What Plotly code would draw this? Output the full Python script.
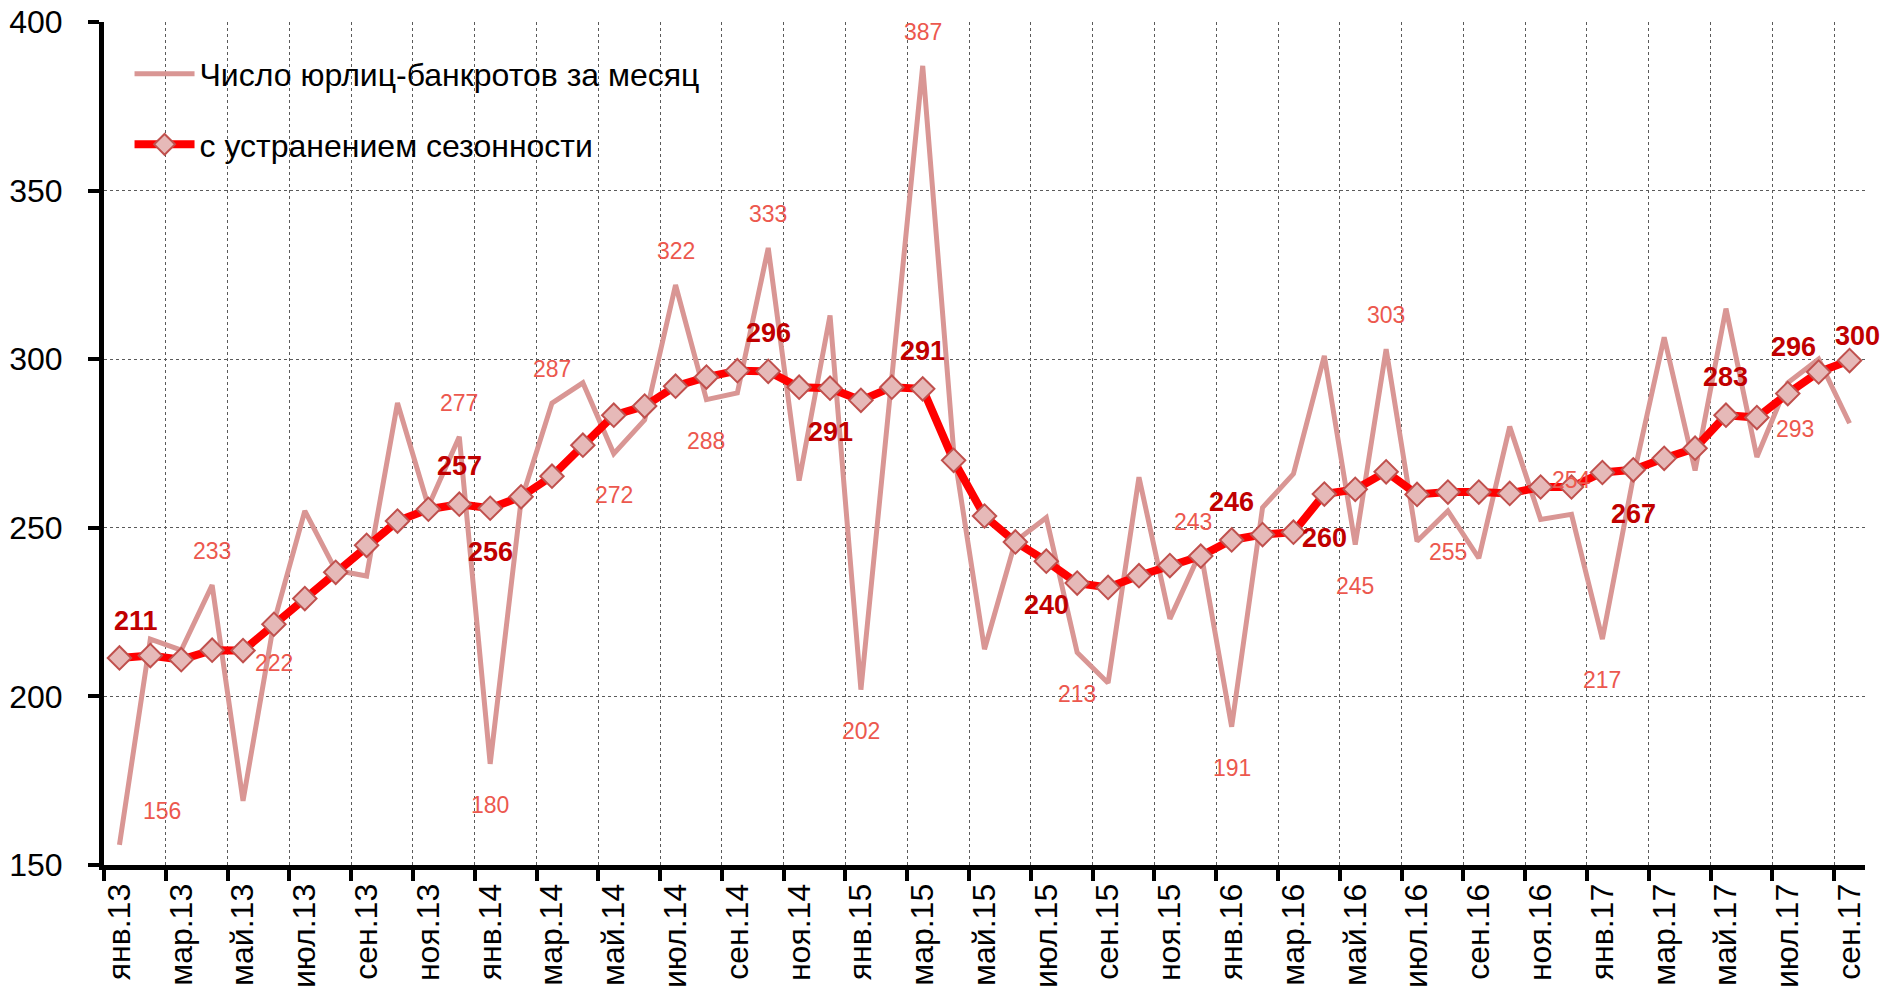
import plotly.graph_objects as go

MONTHS = ["янв.", "фев.", "мар.", "апр.", "май.", "июн.", "июл.", "авг.", "сен.", "окт.", "ноя.", "дек."]
YEARS = ["13", "14", "15", "16", "17"]
CATEGORIES = [m + y for y in YEARS for m in MONTHS][:57]

RAW = [156, 217, 213.7, 233, 169, 222, 255, 237.4, 235.7, 287,
       256.4, 277, 180, 258, 287, 293, 272, 282, 322, 288,
       290, 333, 264, 313, 202, 295, 387, 273, 214, 246,
       253, 213, 204, 265, 223, 243, 191, 256, 266, 301,
       245, 303, 246, 255, 241, 280, 252.5, 254, 217, 265,
       306.5, 267, 315, 271, 293, 300, 281]

SA = [211.4, 212.1, 210.9, 213.7, 213.6, 221.4, 229.0, 236.8, 244.8, 252.0,
      255.5, 257.0, 255.8, 259.2, 265.3, 274.5, 283.4, 286.1, 292.0, 294.7,
      296.6, 296.4, 291.7, 291.4, 287.8, 291.7, 291.2, 270.0, 253.5, 245.8,
      240.1, 233.6, 232.3, 235.8, 238.8, 241.6, 246.4, 248.0, 248.7, 260.0,
      261.4, 266.6, 259.9, 260.6, 260.6, 260.2, 262.1, 262.1, 266.4, 267.2,
      270.6, 273.6, 283.4, 282.7, 289.8, 296.2, 299.6]

RAW_NAME = "Число юрлиц-банкротов за месяц"
SA_NAME = "с устранением сезонности"

# labelled points: index -> placement
RAW_LABELS = {0: "ur", 3: "u", 5: "d", 11: "u", 12: "d", 14: "u", 16: "d", 18: "u",
              19: "d", 21: "u", 24: "d", 26: "u", 31: "d", 35: "ul", 36: "d", 40: "d",
              41: "u", 43: "d", 47: "u", 48: "d", 54: "dr"}
SA_LABELS = {0: "ur", 11: "u", 12: "d", 21: "u", 23: "d", 26: "u", 30: "d", 36: "u",
             39: "d", 49: "d", 52: "u", 55: "ul", 56: "ur2"}

RAW_SHIFT = {"u": (0, 34), "d": (0, -41), "ur": (43, 34), "ul": (-8, 29), "dr": (7, -46)}
SA_SHIFT = {"u": (0, 38), "d": (0, -44), "ur": (17, 37), "ul": (-25, 25), "ur2": (8, 25)}

FONT = "Liberation Sans, Arial, sans-serif"

fig = go.Figure()
fig.add_trace(go.Scatter(
    x=CATEGORIES, y=RAW, name=RAW_NAME, mode="lines",
    line=dict(color="rgb(217,150,148)", width=5),
    legendgroup="a", hoverinfo="x+y"))
fig.add_trace(go.Scatter(
    x=CATEGORIES, y=SA, name=SA_NAME, mode="lines+markers",
    line=dict(color="rgb(255,0,0)", width=8),
    marker=dict(symbol="diamond", size=18, color="rgb(230,185,184)",
                line=dict(color="rgb(192,80,77)", width=2)),
    legendgroup="b", hoverinfo="x+y"))

annotations = []
for i, pos in RAW_LABELS.items():
    dx, dy = RAW_SHIFT[pos]
    annotations.append(dict(x=CATEGORIES[i], y=RAW[i], xref="x", yref="y",
                            text=str(round(RAW[i])), showarrow=False,
                            xshift=dx, yshift=dy,
                            font=dict(family=FONT, size=23, color="rgb(236,88,78)")))
for i, pos in SA_LABELS.items():
    dx, dy = SA_SHIFT[pos]
    annotations.append(dict(x=CATEGORIES[i], y=SA[i], xref="x", yref="y",
                            text="<b>" + str(round(SA[i])) + "</b>", showarrow=False,
                            xshift=dx, yshift=dy,
                            font=dict(family=FONT, size=27, color="rgb(192,0,0)")))

fig.update_layout(
    width=1894, height=997,
    margin=dict(l=104, r=29, t=22, b=132, autoexpand=False),
    paper_bgcolor="white", plot_bgcolor="white",
    showlegend=True,
    legend=dict(x=0.0145, y=0.971, xanchor="left", yanchor="top",
                bgcolor="rgba(255,255,255,0)",
                font=dict(family=FONT, size=32, color="black"),
                tracegroupgap=26, itemwidth=60),
    annotations=annotations,
    xaxis=dict(
        type="category", categoryorder="array", categoryarray=CATEGORIES,
        range=[-0.5, 56.5], tickmode="linear", tick0=0, dtick=2,
        tickson="boundaries", ticks="outside", ticklen=11, tickwidth=4, tickcolor="black",
        showline=True, linecolor="black", linewidth=5, automargin=False,
        showgrid=True, gridcolor="rgb(90,90,90)", griddash="dot", gridwidth=1,
        tickangle=-90, ticklabelstandoff=1, ticklabeloverflow="allow",
        tickfont=dict(family=FONT, size=32, color="black"),
    ),
    yaxis=dict(
        range=[150, 400], tickmode="linear", tick0=150, dtick=50,
        ticks="outside", ticklen=11, tickwidth=4, tickcolor="black",
        showline=True, linecolor="black", linewidth=5, automargin=False,
        showgrid=True, gridcolor="rgb(90,90,90)", griddash="dot", gridwidth=1,
        zeroline=False, ticklabelstandoff=19, ticklabeloverflow="allow",
        tickfont=dict(family=FONT, size=32, color="black"),
    ),
)

fig.write_html("out.html", config={"displayModeBar": False},
               post_script="document.body.style.margin='0px';")
